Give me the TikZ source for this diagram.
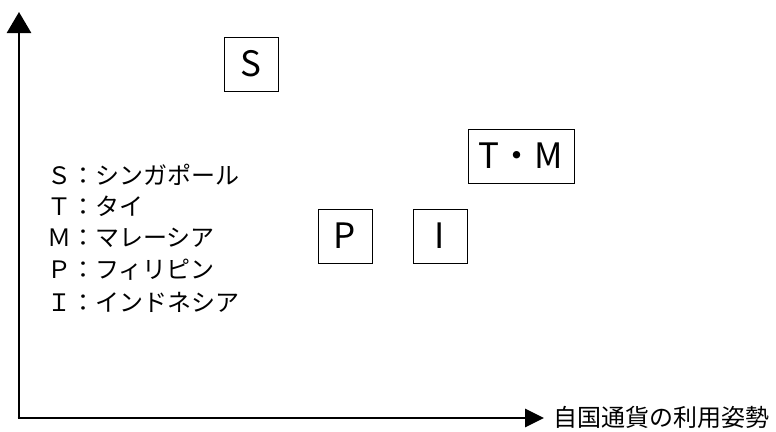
\documentclass[tikz,border=0pt]{standalone}
\usepackage{fontspec}
\setmainfont{Noto Sans CJK JP}
\usetikzlibrary{arrows.meta}
\begin{document}
\begin{tikzpicture}[x=1pt,y=-1pt,
  axis/.style={line width=2.8pt},
  cbox/.style={draw,line width=0.9pt,minimum height=54pt,inner sep=0pt,font=\fontsize{35}{35}\selectfont},
  legend/.style={anchor=west,inner sep=0pt,font=\fontsize{24}{26}\selectfont},
  axlabel/.style={anchor=west,inner sep=0pt,font=\fontsize{24}{26}\selectfont}]
\useasboundingbox (0,0) rectangle (776,431);
\coordinate (o) at (19,418);
\coordinate (ytip) at (19,12);
\coordinate (xtip) at (544,418);
\draw[axis,-{Triangle[length=21pt,width=24pt]}] (o) -- (ytip);
\draw[axis,-{Triangle[length=19pt,width=18pt]}] ([xshift=-1.4pt]o) -- (xtip);
\node[axlabel] (xl) at (553,417) {自国通貨の利用姿勢};
\node[cbox,minimum width=54pt] (s) at (251,64) {S};
\node[cbox,minimum width=106pt] (tm) at (521,156) {T・M};
\node[cbox,minimum width=54pt] (p) at (345,236) {P};
\node[cbox,minimum width=54pt] (i) at (440,236) {I};
\node[legend] (l1) at (47,175) {Ｓ：シンガポール};
\node[legend] (l2) at (47,206) {Ｔ：タイ};
\node[legend] (l3) at (47,238) {Ｍ：マレーシア};
\node[legend] (l4) at (47,270) {Ｐ：フィリピン};
\node[legend] (l5) at (47,302) {Ｉ：インドネシア};
\end{tikzpicture}
\end{document}
